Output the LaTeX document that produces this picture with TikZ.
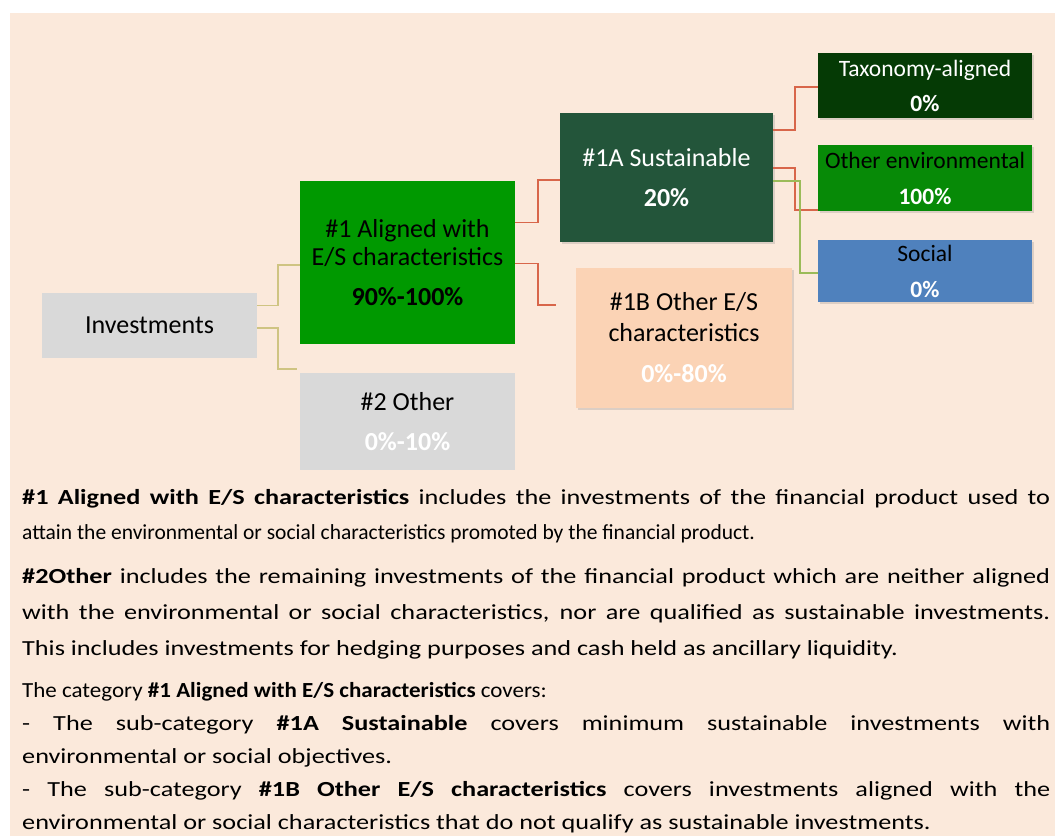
\documentclass[tikz,border=0pt]{standalone}
\usepackage{fontspec}
\setmainfont{Carlito}
\usepackage{tikz}
\usetikzlibrary{shadows}
\definecolor{bgpeach}{HTML}{FBE9DB}
\definecolor{boxgray}{HTML}{D9D9D9}
\definecolor{esgreen}{HTML}{009900}
\definecolor{susgreen}{HTML}{23553A}
\definecolor{taxgreen}{HTML}{053A05}
\definecolor{envgreen}{HTML}{078A07}
\definecolor{socblue}{HTML}{4F81BD}
\definecolor{otherpeach}{HTML}{FBD3B5}
\definecolor{lnolive}{HTML}{CFC482}
\definecolor{lnred}{HTML}{D8664A}
\definecolor{lngreen}{HTML}{9BBB59}
\hyphenpenalty=10000
\exhyphenpenalty=10000
\newcommand{\wide}{\addfontfeature{FakeStretch=1.22}}
\newcommand{\wider}{\addfontfeature{FakeStretch=1.07}}
\tikzset{box/.style = {inner sep=0, align=center, font=\fontsize{26}{28}\selectfont}}
\tikzset{sbox/.style = {inner sep=0, align=center, font=\fontsize{23.5}{35}\selectfont,
  drop shadow={opacity=0.25, shadow xshift=1.5pt, shadow yshift=-1.5pt}}}
\tikzset{link/.style = {line width=1.6pt}}
\tikzset{para/.style = {anchor=north west, inner sep=0, text width=1028pt, align=justify}}

\begin{document}
\begin{tikzpicture}[x=1pt, y=-1pt]
        \fill [white] (0,0) rectangle (1055,839);
        \fill [bgpeach] (10,13) rectangle (1055,836);
        \useasboundingbox (0,0) rectangle (1055,839);
        % boxes
        \node [box, fill=boxgray, minimum width=215, minimum height=65] (inv) at (149.5,325.5) {Investments};
        \node [box, fill=esgreen, minimum width=215, minimum height=163] (al) at (407.5,262.5)
            {\#1 Aligned with\\E/S characteristics\\[12pt]\textbf{90\%-100\%}};
        \node [box, fill=boxgray, minimum width=215, minimum height=97] (oth) at (407.5,421.5)
            {\#2 Other\\[12pt]\textcolor{white}{\textbf{0\%-10\%}}};
        \node [box, fill=susgreen, text=white, minimum width=213, minimum height=129,
            drop shadow={opacity=0.25, shadow xshift=1.5pt, shadow yshift=-1.5pt}] (sus) at (666.5,177.5)
            {\#1A Sustainable\\[12pt]\textbf{20\%}};
        \node [box, fill=otherpeach, minimum width=216, minimum height=140,
            font=\fontsize{26}{31}\selectfont,
            drop shadow={opacity=0.25, shadow xshift=1.5pt, shadow yshift=-1.5pt}] (oes) at (684,338)
            {\#1B Other E/S\\characteristics\\[10pt]\textcolor{white}{\textbf{0\%-80\%}}};
        \node [sbox, fill=taxgreen, text=white, minimum width=214, minimum height=65] (tax) at (925,85.5)
            {Taxonomy-aligned\\\textbf{0\%}};
        \node [sbox, fill=envgreen, minimum width=214, minimum height=66, font=\fontsize{23.5}{36}\selectfont] (env) at (925,178)
            {Other environmental\\\textcolor{white}{\textbf{100\%}}};
        \node [sbox, fill=socblue, minimum width=214, minimum height=62, font=\fontsize{23.5}{36}\selectfont] (soc) at (925,271)
            {Social\\\textcolor{white}{\textbf{0\%}}};
        % connectors
        \draw [link, lnolive] ([yshift=20pt]inv.east) -- ++(21,0) |- ([yshift=-2.5pt]al.west);
        \draw [link, lnolive] ([yshift=-2.5pt]inv.east) -- ++(21,0) |- ([shift={(-3pt,4pt)}]oth.north west);
        \draw [link, lnred] ([yshift=40pt]al.east) -- ++(23,0) |- ([yshift=-2.5pt]sus.west);
        \draw [link, lnred] ([yshift=-1pt]al.east) -- ++(23,0) |- ([shift={(-20pt,33pt)}]oes.west);
        \draw [link, lnred] ([yshift=47.5pt]sus.east) -- ++(22,0) |- ([yshift=-1.5pt]tax.west);
        \draw [link, lnred] ([yshift=9.5pt]sus.east) -- ++(22,0) |- ([yshift=-32pt]env.west);
        \draw [link, lngreen] ([yshift=-3.5pt]sus.east) -- ++(27,0) |- ([yshift=-2pt]soc.west);
        % explanation
        \node [para, font=\fontsize{21.5}{35}\selectfont] (p1) at (22,489)
            {{\wide\textbf{\#1 Aligned with E/S characteristics} includes the investments of the financial product used to}\linebreak
            attain the environmental or social characteristics promoted by the financial product.};
        \node [para, font=\fontsize{21.5}{36}\selectfont\wide] (p2) at (22,568)
            {\textbf{\#2Other} includes the remaining investments of the financial product which are neither aligned\linebreak
            with the environmental or social characteristics, nor are qualified as sustainable investments.\linebreak
            This includes investments for hedging purposes and cash held as ancillary liquidity.};
        \node [para, font=\fontsize{21.5}{33}\selectfont] (p3) at (22,682)
            {{\wider The category \textbf{\#1 Aligned with E/S characteristics} covers:}\\
            {\wide - The sub-category \textbf{\#1A Sustainable} covers minimum sustainable investments with}\linebreak
            {\wide environmental or social objectives.}\\
            {\wide - The sub-category \textbf{\#1B Other E/S characteristics} covers investments aligned with the}\linebreak
            {\wide environmental or social characteristics that do not qualify as sustainable investments.}};
    \end{tikzpicture}
\end{document}
